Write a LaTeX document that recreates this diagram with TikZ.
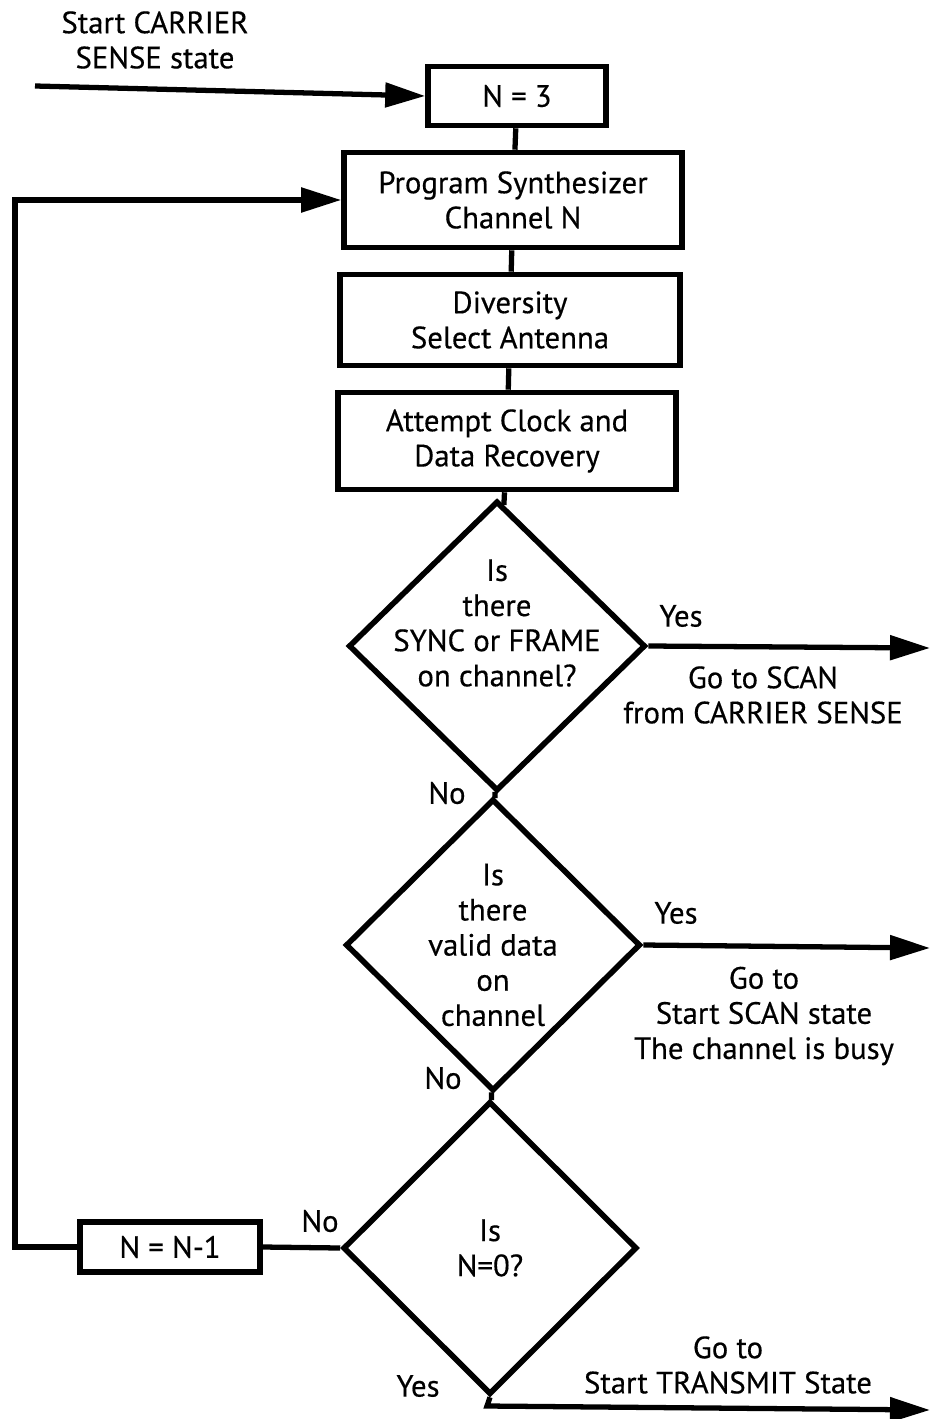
\documentclass[tikz,border=0pt]{standalone}
\usepackage{fontspec}
\setmainfont{PT Sans}[FakeBold=0.4]
\usetikzlibrary{arrows.meta,shapes.geometric}

\begin{document}
\begin{tikzpicture}[x=0.02cm, y=-0.02cm,
    font=\fontsize{17.5}{20}\selectfont,
    box/.style={draw, line width=3.2pt, align=center, inner sep=0pt},
    decision/.style={draw, diamond, line width=3.2pt, align=center, inner sep=0pt},
    flow/.style={line width=3pt, -{Triangle[length=0.8cm, width=0.48cm]}},
    link/.style={line width=3pt}]
            \useasboundingbox (0,0) rectangle (930,1419);
            \node[box, minimum width=3.56cm, minimum height=1.18cm] (n3) at (517,96) {N = 3};
            \node[box, minimum width=6.76cm, minimum height=1.9cm] (prog) at (513,200) {Program Synthesizer\\Channel N};
            \node[box, minimum width=6.8cm, minimum height=1.82cm] (div) at (510,320) {Diversity\\Select Antenna};
            \node[box, minimum width=6.76cm, minimum height=1.94cm] (clk) at (507,441) {Attempt Clock and\\Data Recovery};
            \node[decision, minimum width=5.94cm, minimum height=5.8cm] (q1) at (497,646) {};
            \node[align=center] (q1text) at (497,623) {Is\\there\\SYNC or FRAME\\on channel?};
            \node[decision, minimum width=5.9cm, minimum height=5.8cm] (q2) at (493,945) {Is\\there\\valid data\\on\\channel};
            \node[decision, minimum width=5.88cm, minimum height=5.86cm] (q3) at (490,1248) {Is\\N=0?};
            \node[box, minimum width=3.6cm, minimum height=1.0cm] (dec) at (170,1247) {N = N-1};
            \node[align=center] (start) at (155,40) {Start CARRIER\\SENSE state};
            \coordinate (in) at (35,86);
            \coordinate (loop) at (15,1247);
            \coordinate (out1) at (930,648);
            \coordinate (out2) at (930,948);
            \coordinate (turn) at (487,1406);
            \coordinate (out3) at (930,1410);
            \draw[flow] (in) -- (n3.west);
            \draw[link] (n3) -- (prog);
            \draw[link] (prog) -- (div);
            \draw[link] (div) -- (clk);
            \draw[link] (clk) -- (q1);
            \draw[link] (q1) -- (q2);
            \draw[link] (q2) -- (q3);
            \draw[link] (q3.west) -- (dec.east);
            \draw[flow] (dec.west) -- (loop) |- (prog.west);
            \draw[flow] (q1.east) -- (out1);
            \draw[flow] (q2.east) -- (out2);
            \draw[flow] (q3.south) -- (turn) -- (out3);
            \node (yes1) at (681,616) {Yes};
            \node (yes2) at (676,913) {Yes};
            \node (yes3) at (418,1386) {Yes};
            \node (no1) at (447,793) {No};
            \node (no2) at (443,1078) {No};
            \node (no3) at (320,1221) {No};
            \node[align=center] (scan1) at (763,695) {Go to SCAN\\from CARRIER SENSE};
            \node[align=center] (scan2) at (764,1016) {Go to\\Start SCAN state\\The channel is busy};
            \node[align=center] (tx) at (728,1365) {Go to\\Start TRANSMIT State};
        \end{tikzpicture}
\end{document}
